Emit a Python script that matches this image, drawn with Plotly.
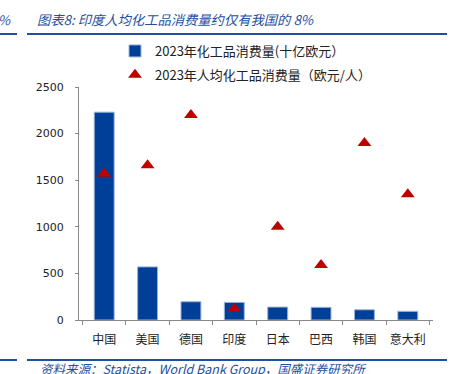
import plotly.graph_objects as go

categories = ["中国", "美国", "德国", "印度", "日本", "巴西", "韩国", "意大利"]
total_consumption = [2230, 570, 196, 189, 139, 136, 110, 93]          # 十亿欧元
per_capita = [1570, 1660, 2200, 120, 1000, 590, 1900, 1350]           # 欧元/人
y_ticks = [0, 500, 1000, 1500, 2000, 2500]

name_bar = "2023年化工品消费量(十亿欧元）"
name_tri = "2023年人均化工品消费量（欧元/人）"
title_text = "图表8: 印度人均化工品消费量约仅有我国的 8%"
source_text = "资料来源：Statista，World Bank Group，国盛证券研究所"

BLUE = "#003F98"
RED = "#C00000"
TXT_BLUE = "#1F4FA0"
CJK = "Noto Sans CJK SC"

W, H = 468, 374
L, R, T, B = 79, 35, 87, 54
PW, PH = W - L - R, H - T - B


def px_x(x):
    return (x - L) / PW


def px_y(y):
    return (H - B - y) / PH


fig = go.Figure()
fig.add_trace(go.Bar(
    x=categories, y=total_consumption, name=name_bar, legendgroup="a",
    marker=dict(color=BLUE, line=dict(color="#9DB3D8", width=1)),
))
fig.add_trace(go.Scatter(
    x=categories, y=per_capita, name=name_tri, mode="markers", legendgroup="b",
    marker=dict(symbol="triangle-up", color=RED, size=12, line=dict(width=0)),
))

fig.update_layout(
    width=W, height=H,
    margin=dict(l=L, r=R, t=T, b=B, autoexpand=False),
    paper_bgcolor="white", plot_bgcolor="white",
    bargap=0.54,
    showlegend=True,
    legend=dict(
        x=px_x(115), y=px_y(36), xanchor="left", yanchor="top",
        font=dict(family=CJK, size=13, color="#222"),
        bgcolor="rgba(0,0,0,0)", itemwidth=30, tracegroupgap=4,
    ),
    font=dict(family="DejaVu Sans", size=11, color="#222"),
)

fig.update_xaxes(
    showline=True, linecolor="#888", linewidth=1,
    ticks="outside", tickson="boundaries", ticklen=4, tickcolor="#888",
    showgrid=False, zeroline=False, automargin=False, tickangle=0,
    tickfont=dict(family=CJK, size=12, color="#222"),
    ticklabelstandoff=9,
)
fig.update_yaxes(
    range=[0, 2500], tickvals=y_ticks,
    showline=True, linecolor="#888", linewidth=1,
    ticks="outside", ticklen=3, tickcolor="#888",
    showgrid=False, zeroline=False, automargin=False,
    tickfont=dict(family="DejaVu Sans", size=11, color="#222"),
    ticklabelstandoff=9,
)

# title, rules and source note
fig.add_annotation(xref="paper", yref="paper", x=px_x(35), y=px_y(20),
                   xanchor="left", yanchor="middle", showarrow=False,
                   text=title_text,
                   font=dict(family=CJK, size=13.3, color=TXT_BLUE, style="italic"))
fig.add_annotation(xref="paper", yref="paper", x=px_x(-4), y=px_y(20),
                   xanchor="left", yanchor="middle", showarrow=False,
                   text="%",
                   font=dict(family=CJK, size=13, color=TXT_BLUE, style="italic"))
fig.add_annotation(xref="paper", yref="paper", x=px_x(38), y=px_y(368),
                   xanchor="left", yanchor="middle", showarrow=False,
                   text=source_text,
                   font=dict(family=CJK, size=12.5, color=TXT_BLUE, style="italic"))
for yy in (34, 360):
    fig.add_shape(type="line", xref="paper", yref="paper",
                  x0=px_x(0), x1=px_x(17), y0=px_y(yy), y1=px_y(yy),
                  line=dict(color=TXT_BLUE, width=2))
    fig.add_shape(type="line", xref="paper", yref="paper",
                  x0=px_x(27), x1=px_x(447), y0=px_y(yy), y1=px_y(yy),
                  line=dict(color=TXT_BLUE, width=2))

fig.write_html("out.html", config={"displayModeBar": False},
               post_script="document.body.style.margin='0';")
